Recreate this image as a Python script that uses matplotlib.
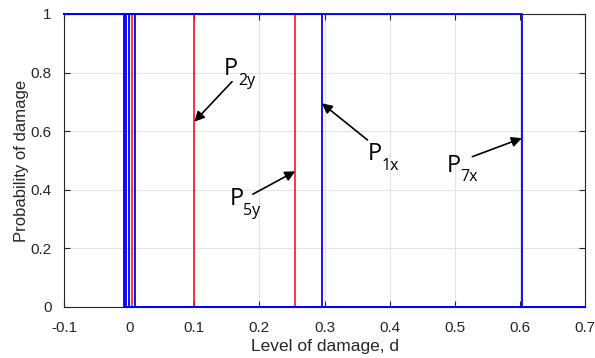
import matplotlib
matplotlib.use("Agg")
import matplotlib.pyplot as plt
from matplotlib.ticker import FuncFormatter

plt.rcParams["font.family"] = ["Liberation Sans", "DejaVu Sans"]

# Step thresholds: damage probability drops 1 -> 0 at each value
red_thresholds = [-0.007, 0.004, 0.100, 0.255]
blue_thresholds = [-0.0085, -0.0055, 0.0, 0.009, 0.296, 0.604]
d_min, d_max = -0.1, 0.7

# Labels: (name, subscript, text position, arrow tail, arrow tip)
labels = [
    ("P", "2y", (0.146, 0.792), (0.158, 0.769), (0.100, 0.632)),
    ("P", "5y", (0.154, 0.348), (0.190, 0.385), (0.255, 0.463)),
    ("P", "1x", (0.367, 0.502), (0.366, 0.570), (0.296, 0.695)),
    ("P", "7x", (0.487, 0.462), (0.527, 0.513), (0.603, 0.576)),
]

fig = plt.figure(figsize=(5.95, 3.58), dpi=100)
ax = fig.add_axes([0.1076, 0.1425, 0.8756, 0.8185])

# steps drawn over the box so the 0 and 1 levels stay visible
for t in red_thresholds:
    ax.plot([d_min, t, t, d_max], [1, 1, 0, 0], color="#ff0000", lw=1.1,
            zorder=3, clip_on=False)
for t in blue_thresholds:
    ax.plot([d_min, t, t, d_max], [1, 1, 0, 0], color="#0000ff", lw=1.3,
            zorder=3, clip_on=False)

ax.set_xlim(d_min, d_max)
ax.set_ylim(0, 1)
ax.set_xticks([-0.1, 0, 0.1, 0.2, 0.3, 0.4, 0.5, 0.6, 0.7])
ax.set_yticks([0, 0.2, 0.4, 0.6, 0.8, 1])
fmt = FuncFormatter(lambda v, p: f"{v:g}")
ax.xaxis.set_major_formatter(fmt)
ax.yaxis.set_major_formatter(fmt)
ax.grid(True, color="#e3e3e3", lw=0.8)
ax.set_axisbelow(True)
ax.tick_params(direction="in", top=True, right=True, length=4, width=0.8,
               labelsize=11, colors="#262626")
ax.tick_params(axis="x", pad=10)
ax.tick_params(axis="y", pad=9)
for s in ax.spines.values():
    s.set_color("#262626")
    s.set_linewidth(0.8)

ax.set_xlabel("Level of damage, d", fontsize=12.5, color="#262626", labelpad=3)
ax.set_ylabel("Probability of damage", fontsize=12, color="#262626", labelpad=1)

for name, sub, pos, tail, tip in labels:
    ax.text(pos[0], pos[1], name, fontsize=17, family="Open Sans",
            ha="left", va="baseline")
    ax.annotate(sub, xy=pos, xytext=(10, -7), textcoords="offset points",
                fontsize=11.5, family="Open Sans", ha="left", va="baseline")
    ax.annotate("", xy=tip, xytext=tail,
                arrowprops=dict(arrowstyle="-|>", color="black", lw=1.2,
                                mutation_scale=15, shrinkA=0, shrinkB=0))

fig.savefig("out.png", dpi=100)
